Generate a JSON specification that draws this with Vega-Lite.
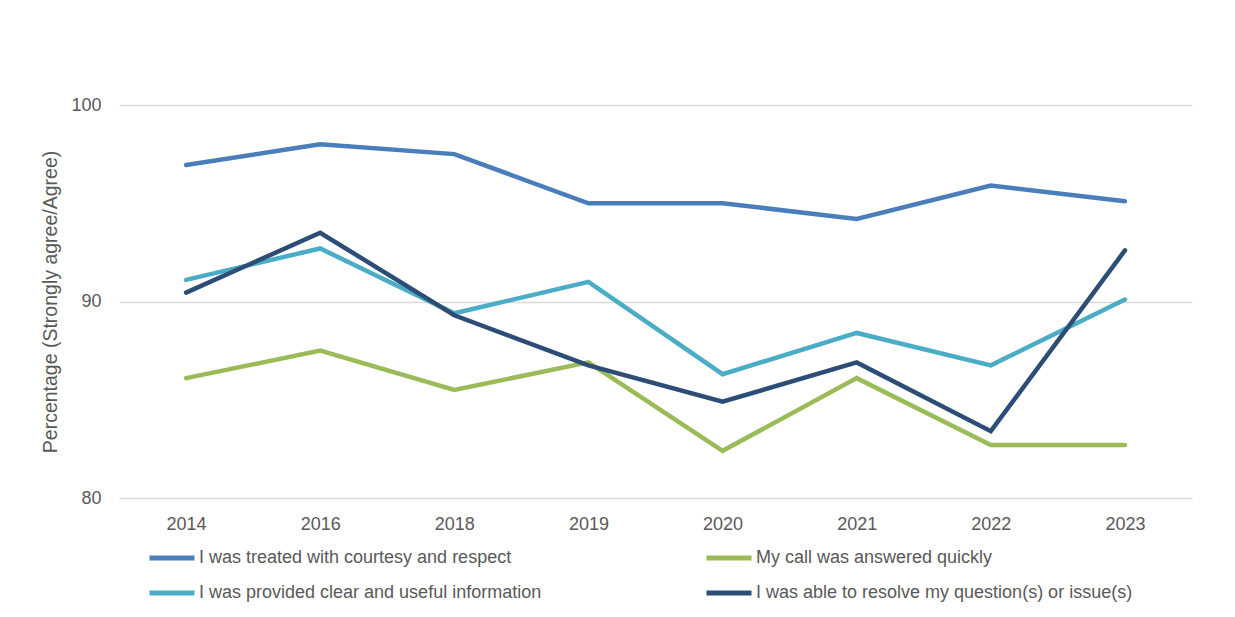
{
  "$schema": "https://vega.github.io/schema/vega-lite/v6.json",
  "autosize": {"type": "none"},
  "padding": {"left": 119, "top": 105, "right": 43, "bottom": 119},
  "width": 1073,
  "height": 393,
  "background": "white",
  "config": {
    "view": {"stroke": null},
    "font": "Liberation Sans",
    "axis": {"labelColor": "#595959", "titleColor": "#595959", "labelFontSize": 18, "titleFontSize": 19.5, "titleFontWeight": "normal", "labelFont": "Liberation Sans", "titleFont": "Liberation Sans"}
  },
  "data": {
    "values": [
      {"year": "2014", "series": "I was treated with courtesy and respect", "value": 96.95},
      {"year": "2016", "series": "I was treated with courtesy and respect", "value": 98.0},
      {"year": "2018", "series": "I was treated with courtesy and respect", "value": 97.5},
      {"year": "2019", "series": "I was treated with courtesy and respect", "value": 95.0},
      {"year": "2020", "series": "I was treated with courtesy and respect", "value": 95.0},
      {"year": "2021", "series": "I was treated with courtesy and respect", "value": 94.2},
      {"year": "2022", "series": "I was treated with courtesy and respect", "value": 95.9},
      {"year": "2023", "series": "I was treated with courtesy and respect", "value": 95.1},
      {"year": "2014", "series": "My call was answered quickly", "value": 86.1},
      {"year": "2016", "series": "My call was answered quickly", "value": 87.5},
      {"year": "2018", "series": "My call was answered quickly", "value": 85.5},
      {"year": "2019", "series": "My call was answered quickly", "value": 86.9},
      {"year": "2020", "series": "My call was answered quickly", "value": 82.4},
      {"year": "2021", "series": "My call was answered quickly", "value": 86.1},
      {"year": "2022", "series": "My call was answered quickly", "value": 82.7},
      {"year": "2023", "series": "My call was answered quickly", "value": 82.7},
      {"year": "2014", "series": "I was provided clear and useful information", "value": 91.1},
      {"year": "2016", "series": "I was provided clear and useful information", "value": 92.7},
      {"year": "2018", "series": "I was provided clear and useful information", "value": 89.4},
      {"year": "2019", "series": "I was provided clear and useful information", "value": 91.0},
      {"year": "2020", "series": "I was provided clear and useful information", "value": 86.3},
      {"year": "2021", "series": "I was provided clear and useful information", "value": 88.4},
      {"year": "2022", "series": "I was provided clear and useful information", "value": 86.75},
      {"year": "2023", "series": "I was provided clear and useful information", "value": 90.1},
      {"year": "2014", "series": "I was able to resolve my question(s) or issue(s)", "value": 90.45},
      {"year": "2016", "series": "I was able to resolve my question(s) or issue(s)", "value": 93.5},
      {"year": "2018", "series": "I was able to resolve my question(s) or issue(s)", "value": 89.3},
      {"year": "2019", "series": "I was able to resolve my question(s) or issue(s)", "value": 86.75},
      {"year": "2020", "series": "I was able to resolve my question(s) or issue(s)", "value": 84.9},
      {"year": "2021", "series": "I was able to resolve my question(s) or issue(s)", "value": 86.9},
      {"year": "2022", "series": "I was able to resolve my question(s) or issue(s)", "value": 83.4},
      {"year": "2023", "series": "I was able to resolve my question(s) or issue(s)", "value": 92.6}
    ]
  },
  "mark": {"type": "line", "strokeWidth": 4.5, "strokeCap": "round", "strokeJoin": "miter"},
  "encoding": {
    "x": {
      "field": "year", "type": "ordinal",
      "scale": {"type": "point", "padding": 0.5},
      "axis": {"title": null, "domain": false, "ticks": false, "grid": false, "labelAngle": 0, "labelPadding": 17}
    },
    "y": {
      "field": "value", "type": "quantitative",
      "scale": {"domain": [80, 100], "nice": false, "zero": false},
      "axis": {"title": "Percentage (Strongly agree/Agree)", "values": [80, 90, 100], "domain": false, "ticks": false, "grid": true, "gridColor": "#D9D9D9", "gridWidth": 1.5, "labelPadding": 18, "titlePadding": 10}
    },
    "color": {
      "field": "series", "type": "nominal",
      "scale": {
        "domain": ["I was treated with courtesy and respect", "My call was answered quickly", "I was provided clear and useful information", "I was able to resolve my question(s) or issue(s)"],
        "range": ["#4A7EBB", "#9BBB59", "#4BACC6", "#2C4D75"]
      },
      "legend": {
        "title": null, "orient": "none", "legendX": 28, "legendY": 428,
        "direction": "horizontal", "columns": 2, "columnPadding": 154, "rowPadding": -18,
        "symbolType": "stroke", "symbolSize": 2025, "symbolStrokeWidth": 5,
        "labelFontSize": 18, "labelColor": "#595959", "labelOffset": 2, "labelLimit": 600,
        "labelFont": "Liberation Sans"
      }
    }
  }
}
